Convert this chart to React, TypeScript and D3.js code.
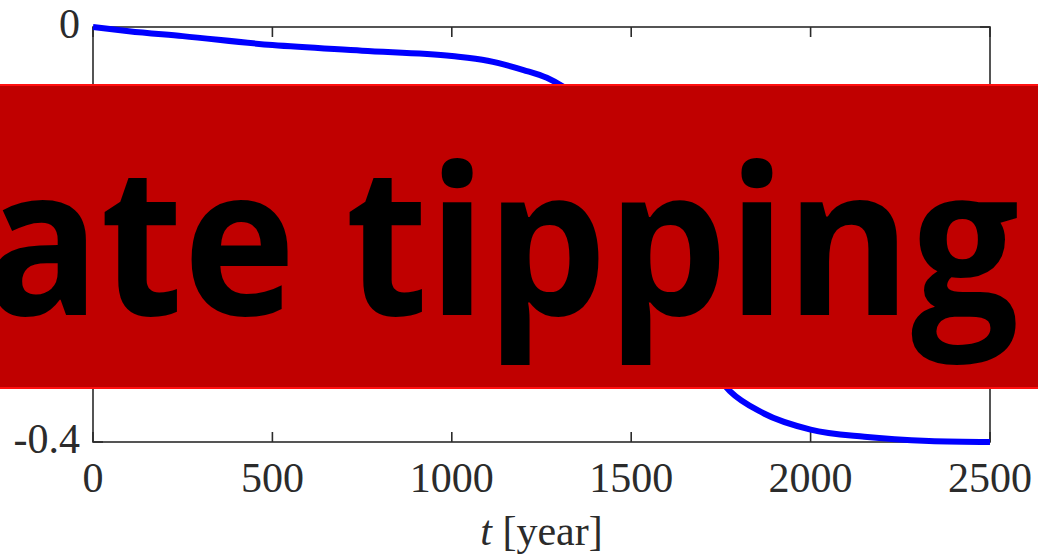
import React from "react";
import * as d3 from "d3";

const tYears = [0, 100, 250, 500, 750, 1000, 1100, 1200, 1265, 1310, 1400, 1450, 1500, 1550, 1600, 1650, 1700, 1775, 1867, 2000, 2150, 2330, 2500];
const stateValues = [0, -0.004, -0.0088, -0.0174, -0.0228, -0.028, -0.0325, -0.0415, -0.049, -0.0575, -0.082, -0.11, -0.15, -0.2, -0.25, -0.29, -0.318, -0.351, -0.372, -0.388, -0.395, -0.399, -0.4005];
const xTicks = [0, 500, 1000, 1500, 2000, 2500];
const yTicks = [0, -0.1, -0.2, -0.3, -0.4];
const yTickLabels = ["0", "", "", "", "-0.4"];
const bannerText = "ate tipping";

const W = 1038;
const H = 557;
const L = 93, R = 990, T = 27, B = 442;

export default function App() {
  const x = d3.scaleLinear().domain([0, 2500]).range([L, R]);
  const y = d3.scaleLinear().domain([-0.4, 0]).range([B, T]);
  const data = tYears.map((t, i) => [t, stateValues[i]] as [number, number]);
  const line = d3
    .line<[number, number]>()
    .x((d) => x(d[0]))
    .y((d) => y(Math.max(d[1], -0.4)))
    .curve(d3.curveMonotoneX);
  const axisColor = "#2b2b2b";
  const tickLen = 10;
  const serif = "'Liberation Serif', 'Times New Roman', serif";
  return (
    <div style={{ position: "fixed", left: 0, top: 0, width: W, height: H, background: "#fff" }}>
      <svg width={W} height={H} viewBox={`0 0 ${W} ${H}`} style={{ display: "block" }}>
        <rect x={0} y={0} width={W} height={H} fill="#fff" />
        <g stroke={axisColor} strokeWidth={1.6}>
          {xTicks.map((t) => (
            <g key={"xt" + t}>
              <line x1={x(t)} x2={x(t)} y1={B} y2={B - tickLen} />
              <line x1={x(t)} x2={x(t)} y1={T} y2={T + tickLen} />
            </g>
          ))}
          {yTicks.map((v) => (
            <g key={"yt" + v}>
              <line x1={L} x2={L + tickLen} y1={y(v)} y2={y(v)} />
              <line x1={R} x2={R - tickLen} y1={y(v)} y2={y(v)} />
            </g>
          ))}
        </g>
        <rect x={L} y={T} width={R - L} height={B - T} fill="none" stroke={axisColor} strokeWidth={1.6} />
        <path d={line(data) || ""} fill="none" stroke="#0000FF" strokeWidth={6} strokeLinejoin="round" />
        <g fontFamily={serif} fontSize={42} fill={axisColor}>
          {xTicks.map((t) => (
            <text key={"xl" + t} x={x(t)} y={B + 50} textAnchor="middle">
              {String(t)}
            </text>
          ))}
          {yTicks.map((v, i) =>
            yTickLabels[i] ? (
              <text key={"yl" + v} x={L - 13} y={y(v) + 11} textAnchor="end">
                {yTickLabels[i]}
              </text>
            ) : null
          )}
          <text x={(L + R) / 2} y={545} textAnchor="middle">
            <tspan fontStyle="italic">t</tspan>
            <tspan> [year]</tspan>
          </text>
        </g>
        <rect x={-10} y={85} width={W + 20} height={303} fill="#C00000" stroke="#FF1010" strokeWidth={2} />
        <text
          x={-15}
          y={315}
          fontFamily="'Open Sans', Lato, sans-serif"
          fontWeight={700}
          fontSize={207}
          fill="#000"
          textLength={1034}
          lengthAdjust="spacingAndGlyphs"
        >
          {bannerText}
        </text>
      </svg>
    </div>
  );
}
